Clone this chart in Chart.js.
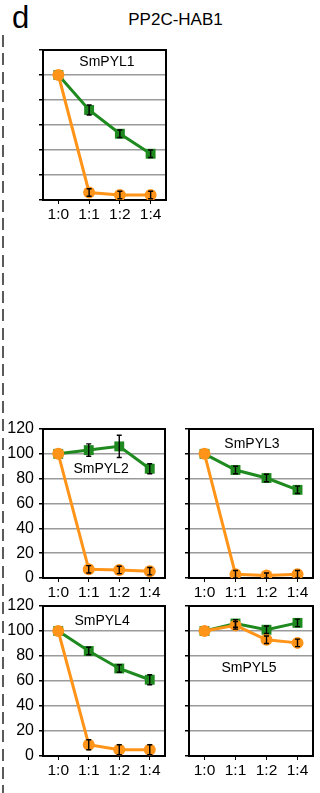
<!DOCTYPE html>
<html>
<head>
<script src="https://cdn.jsdelivr.net/npm/chart.js@4.4.1/dist/chart.umd.min.js"></script>
<style>
  body { margin: 0; background: #fff; width: 320px; height: 793px; position: relative; overflow: hidden; font-family: "Liberation Sans", Arial, sans-serif; }
  canvas { position: absolute; }
  #dash { position: absolute; left: 2px; top: 35px; width: 2px; height: 760px;
          background: repeating-linear-gradient(to bottom, #5a5a5a 0 12px, transparent 12px 18.3px); }
  #letter { position: absolute; left: 12px; top: 0px; font-size: 31px; line-height: 36px; color: #000; }
  #title { position: absolute; left: 100px; width: 151px; text-align: center; top: 10px; font-size: 17px; line-height: 20px; color: #000; }
</style>
</head>
<body>
<div id="dash"></div>
<div id="letter">d</div>
<div id="title">PP2C-HAB1</div>

<canvas id="c1" width="173" height="189" style="left:0px;top:35px"></canvas>
<canvas id="c2" width="172" height="188" style="left:0px;top:414px"></canvas>
<canvas id="c3" width="174" height="188" style="left:146px;top:414px"></canvas>
<canvas id="c4" width="172" height="189" style="left:0px;top:591px"></canvas>
<canvas id="c5" width="174" height="189" style="left:146px;top:591px"></canvas>

<script>
// ratios on the x axis
var categories = ["1:0", "1:1", "1:2", "1:4"];
var yTicks = [0, 20, 40, 60, 80, 100, 120];

// green = squares, orange = circles ; *Err = error bar half-length
var green1 = [100, 72, 53, 37];   var green1Err = [0, 4, 3, 3];
var orange1 = [100, 6, 4, 4];     var orange1Err = [0, 3, 3, 3];

var green2 = [100, 103, 106, 88]; var green2Err = [0, 5, 9, 4];
var orange2 = [100, 7, 6.5, 5.5]; var orange2Err = [0, 3, 3, 3];

var green3 = [100, 87, 80.5, 71]; var green3Err = [0, 3, 3, 3];
var orange3 = [100, 3, 2, 3];     var orange3Err = [0, 3, 2, 3];

var green4 = [100, 84, 70, 61];   var green4Err = [0, 3, 3, 4];
var orange4 = [100, 9, 5, 5];     var orange4Err = [0, 4, 4, 4];

var green5 = [100, 106, 101, 106.5]; var green5Err = [0, 3, 3, 3];
var orange5 = [100, 104.5, 93, 90.5]; var orange5Err = [0, 3, 3, 3];

var GREEN = "#1f8a1f";
var ORANGE = "#ff9419";
var FONT = "'Liberation Sans', Arial, sans-serif";

// draws frame, error bars and panel name
var panelDeco = {
  id: "panelDeco",
  afterDatasetsDraw: function (chart, args, opts) {
    var ctx = chart.ctx, a = chart.chartArea;
    var xs = chart.scales.x, ys = chart.scales.y;
    ctx.save();
    ctx.strokeStyle = "#000";
    ctx.lineWidth = 1.4;
    chart.data.datasets.forEach(function (ds, di) {
      ds.data.forEach(function (v, i) {
        var e = ds.err[i];
        if (!e) return;
        var x = xs.getPixelForValue(i);
        var y1 = ys.getPixelForValue(v - e), y2 = ys.getPixelForValue(v + e);
        ctx.beginPath();
        ctx.moveTo(x, y1); ctx.lineTo(x, y2);
        ctx.moveTo(x - 2.5, y1); ctx.lineTo(x + 2.5, y1);
        ctx.moveTo(x - 2.5, y2); ctx.lineTo(x + 2.5, y2);
        ctx.stroke();
      });
    });
    // top & right frame
    ctx.lineWidth = 2;
    ctx.beginPath();
    ctx.moveTo(a.left, a.top); ctx.lineTo(a.right, a.top); ctx.lineTo(a.right, a.bottom);
    ctx.stroke();
    // panel label
    ctx.fillStyle = "#000";
    ctx.font = "14px " + FONT;
    ctx.textAlign = "center";
    ctx.textBaseline = "middle";
    ctx.fillText(opts.text, a.left + (a.right - a.left) * opts.fx, ys.getPixelForValue(opts.vy));
    ctx.restore();
  }
};

function makePanel(id, g, gErr, o, oErr, label, fx, vy, showY) {
  new Chart(document.getElementById(id), {
    type: "line",
    data: {
      labels: categories,
      datasets: [
        { data: o, err: oErr, borderColor: ORANGE, backgroundColor: ORANGE, borderWidth: 3,
          pointStyle: "circle", pointRadius: 6, pointBorderWidth: 0 },
        { data: g, err: gErr, borderColor: GREEN, backgroundColor: GREEN, borderWidth: 3,
          pointStyle: "rect", pointRadius: 7, pointBorderWidth: 0 }
      ]
    },
    options: {
      responsive: false,
      animation: false,
      layout: { padding: { top: 15, right: 5, left: 0, bottom: 0 } },
      plugins: {
        legend: { display: false },
        tooltip: { enabled: false },
        panelDeco: { text: label, fx: fx, vy: vy }
      },
      scales: {
        x: {
          offset: true,
          grid: { display: true, drawOnChartArea: false, drawTicks: true, tickLength: 4, tickColor: "#000" },
          border: { color: "#000", width: 2 },
          ticks: { color: "#000", padding: 1, font: { family: FONT, size: 15.5 }, maxRotation: 0 },
          afterFit: function (s) { s.height = 24; }
        },
        y: {
          min: 0, max: 120,
          afterBuildTicks: function (s) { s.ticks = yTicks.map(function (v) { return { value: v }; }); },
          grid: { color: "#9a9a9a", lineWidth: 1.5, tickLength: 4, tickColor: "#000", tickWidth: 1.5 },
          border: { color: "#000", width: 2 },
          ticks: { color: showY ? "#000" : "rgba(0,0,0,0)", padding: 5, font: { family: FONT, size: 16 } },
          afterFit: function (s) { s.width = 43; }
        }
      }
    },
    plugins: [panelDeco]
  });
}

makePanel("c1", green1, green1Err, orange1, orange1Err, "SmPYL1", 0.52, 110, false);
makePanel("c2", green2, green2Err, orange2, orange2Err, "SmPYL2", 0.476, 88, true);
makePanel("c3", green3, green3Err, orange3, orange3Err, "SmPYL3", 0.508, 108, false);
makePanel("c4", green4, green4Err, orange4, orange4Err, "SmPYL4", 0.484, 108, true);
makePanel("c5", green5, green5Err, orange5, orange5Err, "SmPYL5", 0.484, 70.4, false);
</script>
</body>
</html>
